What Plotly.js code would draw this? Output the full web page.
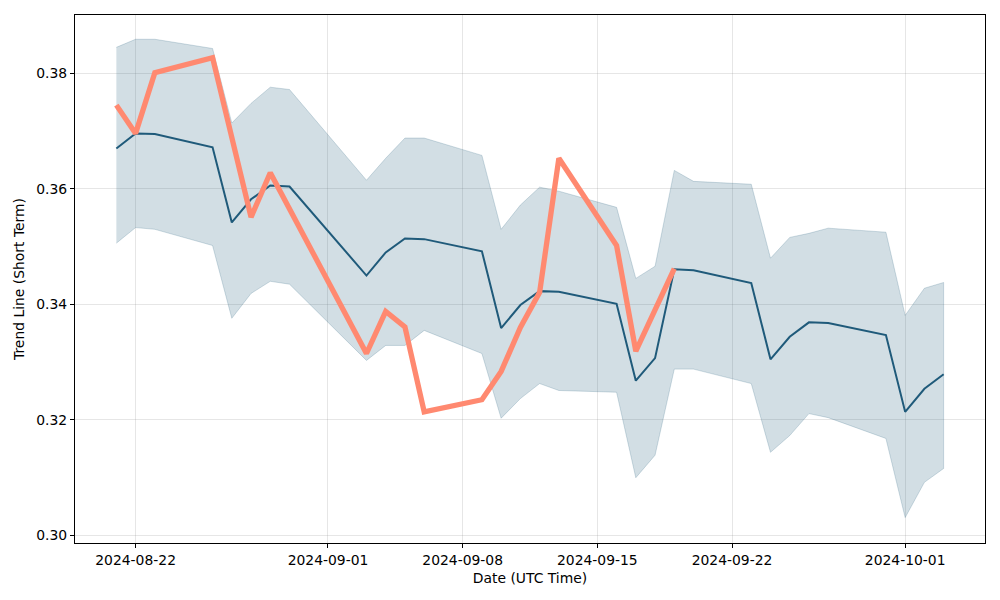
<!DOCTYPE html>
<html>
<head>
<meta charset="utf-8">
<script src="https://cdn.plot.ly/plotly-3.0.1.min.js"></script>
<style>html,body{margin:0;padding:0;background:#fff;}#chart{width:1000px;height:600px;}</style>
</head>
<body>
<div id="chart"></div>
<script>
const dates = ["2024-08-21","2024-08-22","2024-08-23","2024-08-26","2024-08-27","2024-08-28","2024-08-29","2024-08-30",
  "2024-09-03","2024-09-04","2024-09-05","2024-09-06","2024-09-09","2024-09-10","2024-09-11","2024-09-12","2024-09-13",
  "2024-09-16","2024-09-17","2024-09-18","2024-09-19","2024-09-20","2024-09-23","2024-09-24","2024-09-25","2024-09-26",
  "2024-09-27","2024-09-30","2024-10-01","2024-10-02","2024-10-03"];
const trend = [0.3670,0.3696,0.3695,0.3672,0.3542,0.3582,0.3606,0.3604,
  0.3450,0.3490,0.3514,0.3513,0.3492,0.3359,0.3399,0.3423,0.3422,
  0.3401,0.3268,0.3307,0.3461,0.3459,0.3437,0.3305,0.3344,0.3369,
  0.3368,0.3347,0.3214,0.3254,0.3279];
const upper = [0.3845,0.3859,0.3859,0.3843,0.3714,0.3748,0.3776,0.3772,
  0.3615,0.3653,0.3688,0.3688,0.3658,0.3530,0.3572,0.3603,0.3596,
  0.3568,0.3445,0.3466,0.3632,0.3613,0.3608,0.3480,0.3516,0.3523,
  0.3532,0.3525,0.3381,0.3428,0.3438];
const lower = [0.3506,0.3533,0.3530,0.3502,0.3376,0.3419,0.3440,0.3435,
  0.3303,0.3329,0.3329,0.3355,0.3315,0.3203,0.3237,0.3263,0.3251,
  0.3248,0.3100,0.3139,0.3288,0.3288,0.3263,0.3144,0.3173,0.3211,
  0.3204,0.3168,0.3031,0.3092,0.3116];
const priceDates = ["2024-08-21","2024-08-22","2024-08-23","2024-08-26","2024-08-28","2024-08-29",
  "2024-09-03","2024-09-04","2024-09-05","2024-09-06","2024-09-09","2024-09-10","2024-09-11","2024-09-12",
  "2024-09-13","2024-09-16","2024-09-17","2024-09-19"];
const price = [0.3745,0.3696,0.3801,0.3827,0.3551,0.3628,
  0.3315,0.3388,0.3361,0.3214,0.3235,0.3284,0.3360,0.3421,
  0.3653,0.3502,0.3319,0.3462];
const xTickVals = ["2024-08-22","2024-09-01","2024-09-08","2024-09-15","2024-09-22","2024-10-01"];
const yTickVals = [0.30,0.32,0.34,0.36,0.38];

const bandX = dates.concat(dates.slice().reverse());
const bandY = upper.concat(lower.slice().reverse());

const traces = [
  {x: bandX, y: bandY, type: 'scatter', mode: 'lines', fill: 'toself',
   fillcolor: 'rgba(31,90,122,0.2)', line: {color: 'rgba(31,90,122,0.2)', width: 1},
   hoverinfo: 'skip', showlegend: false},
  {x: dates, y: trend, type: 'scatter', mode: 'lines',
   line: {color: '#1f5a7a', width: 2}, showlegend: false},
  {x: priceDates, y: price, type: 'scatter', mode: 'lines',
   line: {color: '#ff8970', width: 5.3}, showlegend: false}
];

const axisCommon = {
  showline: true, mirror: true, linecolor: '#000', linewidth: 1,
  ticks: 'outside', ticklen: 4, tickcolor: '#000', tickwidth: 1,
  showgrid: true, gridcolor: 'rgba(128,128,128,0.2)', gridwidth: 1,
  zeroline: false, tickfont: {family: 'DejaVu Sans', size: 13.9, color: '#000'}
};

const layout = {
  width: 1000, height: 600,
  margin: {l: 75, r: 15, t: 15, b: 57},
  paper_bgcolor: '#fff', plot_bgcolor: '#fff',
  font: {family: 'DejaVu Sans', color: '#000'},
  xaxis: Object.assign({}, axisCommon, {
    type: 'date', range: ['2024-08-18 20:24', '2024-10-05 03:36'],
    tickvals: xTickVals, ticktext: xTickVals,
    title: {text: 'Date (UTC Time)', font: {family: 'DejaVu Sans', size: 13.9, color: '#000'}, standoff: 6}
  }),
  yaxis: Object.assign({}, axisCommon, {
    range: [0.2987, 0.3901], tickvals: yTickVals, ticktext: yTickVals.map(v => v.toFixed(2)),
    title: {text: 'Trend Line (Short Term)', font: {family: 'DejaVu Sans', size: 13.9, color: '#000'}, standoff: 8}
  })
};

Plotly.newPlot('chart', traces, layout, {displayModeBar: false, staticPlot: true});
</script>
</body>
</html>
